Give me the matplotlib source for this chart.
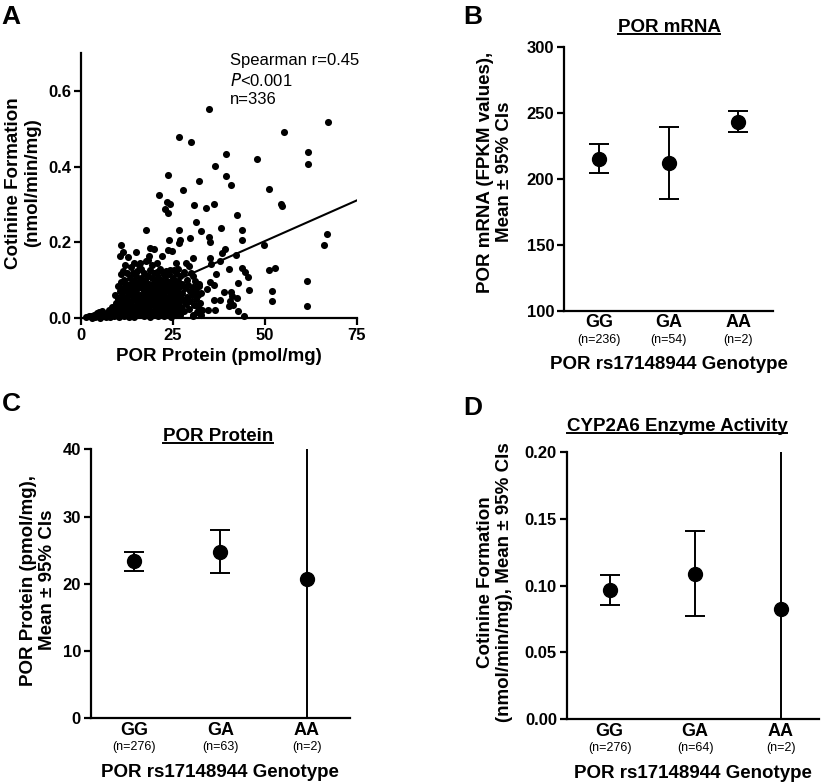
import matplotlib
matplotlib.use("Agg")
import matplotlib.pyplot as plt
import numpy as np
from matplotlib.lines import Line2D

plt.rcParams['font.family'] = ['Liberation Sans', 'DejaVu Sans']

# ---------------- Panel A data (POR protein vs cotinine formation) ----------------
outlier_x = [34.96, 67.3, 55.3, 26.6, 30.0, 61.8, 39.5, 48.0, 61.9, 36.5, 23.7, 39.5, 32.1, 40.8,
             27.9, 51.2, 21.2, 23.4, 24.4, 30.7, 36.2, 34.1, 54.3, 54.7, 23.0, 23.6, 31.4, 42.4,
             38.0, 32.8, 43.7, 17.8, 26.8, 34.8, 29.7, 35.1, 24.1, 27.0, 43.7, 66.8, 66.0, 49.9,
             11.0, 26.6, 39.2, 18.7, 19.9, 14.9, 11.6, 23.8, 24.8, 38.3, 42.2, 30.6, 35.0, 10.7,
             22.1, 16.1, 18.4, 20.7, 25.8, 28.6, 37.8, 35.3, 29.5, 43.7, 52.9, 51.1, 40.3, 44.6,
             45.5, 36.7, 30.4, 35.1, 61.6, 42.8, 32.1, 36.1, 34.3, 45.6, 52.0, 38.9, 40.8, 41.0,
             42.6, 52.0, 36.1, 37.9, 40.6, 41.5, 40.4, 61.4, 36.4, 34.6, 42.8, 44.5, 32.1, 30.6, 27.0]
outlier_y = [0.551, 0.517, 0.491, 0.479, 0.466, 0.439, 0.433, 0.420, 0.407, 0.402, 0.378, 0.375, 0.363, 0.352,
             0.337, 0.342, 0.326, 0.306, 0.300, 0.298, 0.301, 0.291, 0.302, 0.296, 0.289, 0.277, 0.253, 0.271,
             0.239, 0.229, 0.233, 0.233, 0.232, 0.214, 0.212, 0.202, 0.207, 0.205, 0.205, 0.222, 0.194, 0.192,
             0.194, 0.198, 0.181, 0.185, 0.181, 0.174, 0.174, 0.179, 0.176, 0.172, 0.167, 0.159, 0.158, 0.163,
             0.165, 0.145, 0.154, 0.145, 0.145, 0.144, 0.150, 0.142, 0.137, 0.132, 0.131, 0.126, 0.130, 0.121,
             0.107, 0.117, 0.110, 0.094, 0.097, 0.092, 0.085, 0.087, 0.077, 0.075, 0.070, 0.068, 0.068, 0.059,
             0.053, 0.046, 0.048, 0.047, 0.044, 0.035, 0.031, 0.031, 0.022, 0.022, 0.018, 0.006, 0.013, 0.009, 0.009]

cluster_x = [1.5, 2.2, 2.8, 3.1, 3.6, 4.0, 4.3, 4.7, 5.0, 5.2, 5.6, 5.9, 6.1, 6.4, 6.8, 7.0, 7.3, 7.7, 7.9, 8.2,
             8.5, 8.8, 9.0, 9.3, 9.6,
             9.2, 9.5, 9.8, 10.0, 10.1, 10.3, 10.4, 10.6, 10.8, 10.9, 11.0, 11.1, 11.2, 11.4, 11.5, 11.6, 11.7,
             11.8, 11.9, 12.0, 12.1, 12.2, 12.3, 12.4, 12.5,
             12.6, 12.7, 12.8, 12.9, 13.0, 13.1, 13.2, 13.3, 13.4, 13.5, 13.6, 13.7, 13.8, 13.9, 14.0, 14.1,
             14.2, 14.3, 14.4, 14.5, 14.6, 14.7, 14.8, 14.9, 15.0, 15.1, 15.2, 15.3, 15.4, 15.5, 15.6, 15.7,
             15.8, 15.9, 16.0, 16.1, 16.2, 16.3, 16.4, 16.5,
             16.6, 16.7, 16.8, 16.9, 17.0, 17.1, 17.2, 17.3, 17.4, 17.5, 17.6, 17.7, 17.8, 17.9, 18.0, 18.1,
             18.2, 18.3, 18.4, 18.5, 18.6, 18.7, 18.8, 18.9, 19.0, 19.1, 19.2, 19.3, 19.4, 19.5, 19.6, 19.7,
             19.8, 19.9, 20.0, 20.1, 20.2, 20.3, 20.4, 20.5,
             20.6, 20.7, 20.8, 20.9, 21.0, 21.1, 21.2, 21.3, 21.4, 21.5, 21.6, 21.7, 21.8, 21.9, 22.0, 22.1,
             22.2, 22.3, 22.4, 22.5, 22.6, 22.7, 22.8, 22.9, 23.0, 23.1, 23.2, 23.3, 23.4, 23.5, 23.6, 23.7,
             23.8, 23.9, 24.0, 24.1, 24.2, 24.3, 24.4, 24.5, 24.6, 24.7, 24.8, 24.9, 25.0,
             25.1, 25.2, 25.3, 25.4, 25.5, 25.6, 25.7, 25.8, 25.9, 26.0, 26.1, 26.2, 26.3, 26.4, 26.5, 26.6,
             26.7, 26.8, 26.9, 27.0, 27.2, 27.4, 27.6, 27.8, 28.0, 28.2, 28.4, 28.6, 28.8, 29.0, 29.2, 29.4,
             29.6, 29.8, 30.0, 30.2, 30.4, 30.6, 30.8, 31.0, 31.2, 31.4, 31.6, 31.8, 32.0, 32.2, 32.4, 32.6,
             32.8, 33.0]
cluster_y = [0.002, 0.004, 0.006, 0.001, 0.008, 0.003, 0.012, 0.005, 0.015, 0.001, 0.009, 0.018, 0.004, 0.011,
             0.002, 0.007, 0.014, 0.021, 0.003, 0.010, 0.030, 0.016, 0.004, 0.024, 0.040,
             0.060, 0.010, 0.032, 0.050, 0.085, 0.002, 0.020, 0.070, 0.040, 0.115, 0.095, 0.012, 0.060, 0.030,
             0.125, 0.080, 0.005, 0.050, 0.100, 0.022, 0.140, 0.070, 0.040, 0.090, 0.010,
             0.118, 0.055, 0.030, 0.160, 0.082, 0.003, 0.045, 0.105, 0.068, 0.020, 0.135, 0.090, 0.038, 0.012,
             0.075, 0.118, 0.058, 0.028, 0.098, 0.002, 0.145, 0.048, 0.085, 0.018, 0.065, 0.110, 0.035, 0.125,
             0.008, 0.078, 0.052, 0.095, 0.025, 0.140, 0.062, 0.040, 0.010, 0.105, 0.082, 0.130,
             0.030, 0.058, 0.015, 0.092, 0.045, 0.120, 0.072, 0.005, 0.038, 0.100, 0.060, 0.022, 0.150, 0.085,
             0.048, 0.012, 0.112, 0.068, 0.030, 0.165, 0.090, 0.002, 0.055, 0.128, 0.040, 0.075, 0.018, 0.105,
             0.062, 0.140, 0.008, 0.088, 0.035, 0.118, 0.052, 0.025, 0.095, 0.070, 0.010, 0.045,
             0.122, 0.082, 0.032, 0.060, 0.004, 0.108, 0.050, 0.020, 0.090, 0.130, 0.068, 0.040, 0.012, 0.100,
             0.058, 0.028, 0.078, 0.120, 0.045, 0.006, 0.092, 0.065, 0.035, 0.110, 0.018, 0.080, 0.052, 0.125,
             0.040, 0.098, 0.010, 0.070, 0.030, 0.115, 0.055, 0.085, 0.022, 0.128, 0.048, 0.002, 0.095, 0.062,
             0.035, 0.075, 0.015,
             0.105, 0.045, 0.128, 0.068, 0.028, 0.088, 0.050, 0.008, 0.118, 0.038, 0.075, 0.060, 0.020, 0.098,
             0.130, 0.042, 0.082, 0.012, 0.058, 0.110, 0.030, 0.090, 0.065, 0.048, 0.122, 0.018, 0.078, 0.038,
             0.100, 0.055, 0.088, 0.025, 0.070, 0.045, 0.118, 0.062, 0.005, 0.082, 0.035, 0.098, 0.050, 0.072,
             0.015, 0.060, 0.028, 0.090, 0.040, 0.008, 0.065, 0.020]

fit_slope = 0.0043
fit_intercept = -0.012
fit_x_range = [3.0, 75.0]

# ---------------- Panels B-D data (mean and 95% CI by genotype) ----------------
genotypes = ['GG', 'GA', 'AA']

mrna_n = [236, 54, 2]
mrna_mean = [215.2, 211.9, 243.2]
mrna_lo = [204.3, 184.4, 235.4]
mrna_hi = [226.3, 239.2, 251.0]

protein_n = [276, 63, 2]
protein_mean = [23.35, 24.77, 20.67]
protein_lo = [21.9, 21.56, -60.0]
protein_hi = [24.77, 28.0, 100.0]

activity_n = [276, 64, 2]
activity_mean = [0.097, 0.109, 0.0823]
activity_lo = [0.0855, 0.0772, -0.30]
activity_hi = [0.1082, 0.141, 0.45]

# ---------------- Layout ----------------
W, H = 825, 784
fig = plt.figure(figsize=(W / 100, H / 100), dpi=100)


def ax_px(left, top, right, bottom):
    return fig.add_axes([left / W, 1 - bottom / H, (right - left) / W, (bottom - top) / H])


def fpos(x, y):
    return (x / W, 1 - y / H)


def style_axes(ax, xticks=True):
    for s in ['top', 'right']:
        ax.spines[s].set_visible(False)
    for s in ['left', 'bottom']:
        ax.spines[s].set_linewidth(1.6)
    ax.tick_params(axis='y', direction='out', length=5, width=1.6, labelsize=12, pad=2)
    if xticks:
        ax.tick_params(axis='x', direction='out', length=5, width=1.6, labelsize=12, pad=2)
    else:
        ax.tick_params(axis='x', length=0, labelbottom=False)
    for lab in ax.get_yticklabels() + ax.get_xticklabels():
        lab.set_fontweight('bold')


LABEL_FS = 13.5

# Panel A
axA = ax_px(80.7, 53, 356.7, 318)
axA.scatter(outlier_x + cluster_x, outlier_y + cluster_y, s=26, color='black', linewidths=0,
            clip_on=False, zorder=3)
fx = np.array(fit_x_range)
axA.plot(fx, fit_slope * fx + fit_intercept, color='black', lw=1.5, zorder=2)
axA.set_xlim(0, 75)
axA.set_ylim(0, 0.7)
axA.set_xticks([0, 25, 50, 75])
axA.set_yticks([0.0, 0.2, 0.4, 0.6])
axA.set_yticklabels(['0.0', '0.2', '0.4', '0.6'])
style_axes(axA)
axA.set_xlabel('POR Protein (pmol/mg)', fontsize=LABEL_FS, fontweight='bold', labelpad=4)
fig.text(*fpos(23, 183), 'Cotinine Formation\n(nmol/min/mg)', rotation=90, ha='center', va='center',
         fontsize=LABEL_FS, fontweight='bold', multialignment='center', linespacing=1.1)
fig.text(*fpos(230, 61), 'Spearman r=0.45', fontsize=12, ha='left', va='center')
fig.text(*fpos(230, 80), r'$\it{P}$<0.001', fontsize=12, ha='left', va='center')
fig.text(*fpos(230, 100), 'n=336', fontsize=12, ha='left', va='center')


def genotype_panel(rect, means, los, his, ns, ylim, yticks, yfmt, ylabel, ylabel_xy, xlim):
    ax = ax_px(*rect)
    x = np.arange(len(genotypes))
    m = np.array(means)
    yerr = [m - np.array(los), np.array(his) - m]
    ax.errorbar(x, m, yerr=yerr, fmt='o', color='black', ms=10, capsize=7, elinewidth=1.4,
                capthick=1.4, zorder=3)
    ax.set_xlim(*xlim)
    ax.set_ylim(*ylim)
    ax.set_yticks(yticks)
    ax.set_yticklabels([yfmt.format(v) for v in yticks])
    ax.set_xticks(x)
    style_axes(ax, xticks=False)
    for i, (g, n) in enumerate(zip(genotypes, ns)):
        ax.annotate(g, xy=(i, 0), xycoords=ax.get_xaxis_transform(), xytext=(0, -12),
                    textcoords='offset pixels', ha='center', va='center', fontsize=13,
                    fontweight='bold')
        ax.annotate(f'(n={n})', xy=(i, 0), xycoords=ax.get_xaxis_transform(), xytext=(0, -29),
                    textcoords='offset pixels', ha='center', va='center', fontsize=9)
    ax.annotate('POR rs17148944 Genotype', xy=(0.5, 0), xycoords='axes fraction', xytext=(0, -54),
                textcoords='offset pixels', ha='center', va='center', fontsize=LABEL_FS,
                fontweight='bold')
    fig.text(*fpos(*ylabel_xy), ylabel, rotation=90, ha='center', va='center', fontsize=LABEL_FS,
             fontweight='bold', multialignment='center', linespacing=1.1)
    return ax


axB = genotype_panel((564, 46.7, 773, 310.7), mrna_mean, mrna_lo, mrna_hi, mrna_n,
                     (100, 300), [100, 150, 200, 250, 300], '{:.0f}',
                     'POR mRNA (FPKM values),\nMean \u00b1 95% CIs', (495, 172), (-0.5, 2.5))
axC = genotype_panel((90.7, 449.3, 350, 718.3), protein_mean, protein_lo, protein_hi, protein_n,
                     (0, 40), [0, 10, 20, 30, 40], '{:.0f}',
                     'POR Protein (pmol/mg),\nMean \u00b1 95% CIs', (38, 580), (-0.5, 2.5))
axD = genotype_panel((566.7, 452.3, 819.3, 719), activity_mean, activity_lo, activity_hi, activity_n,
                     (0, 0.2), [0.0, 0.05, 0.10, 0.15, 0.20], '{:.2f}',
                     'Cotinine Formation\n(nmol/min/mg), Mean \u00b1 95% CIs', (495, 582), (-0.5, 2.45))

# Panel titles (underlined)
titles = [('POR mRNA', 669, 31.7), ('POR Protein', 218, 440.7), ('CYP2A6 Enzyme Activity', 677, 430.5)]
title_texts = []
for t, x, y in titles:
    title_texts.append(fig.text(*fpos(x, y), t, ha='center', va='baseline', fontsize=LABEL_FS,
                                fontweight='bold'))

# Panel letters
for letter, x, y in [('A', 11, 17), ('B', 473, 17), ('C', 11, 404), ('D', 473, 408)]:
    fig.text(*fpos(x, y), letter, ha='center', va='center', fontsize=19, fontweight='bold')

fig.canvas.draw()
renderer = fig.canvas.get_renderer()
for txt, (t, x, y) in zip(title_texts, titles):
    bb = txt.get_window_extent(renderer)
    yline = 1 - (y + 2.0) / H
    fig.add_artist(Line2D([bb.x0 / W, bb.x1 / W], [yline, yline], color='black', lw=1.4,
                          transform=fig.transFigure))

fig.savefig('out.png', dpi=100)
